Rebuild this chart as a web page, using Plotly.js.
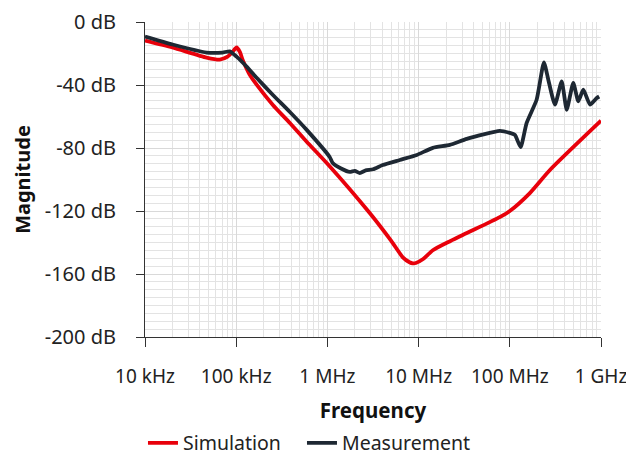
<!DOCTYPE html>
<html>
<head>
<meta charset="utf-8">
<script src="https://cdn.plot.ly/plotly-3.0.1.min.js"></script>
<style>html,body{margin:0;padding:0;background:#fff}#chart{width:626px;height:455px}</style>
</head>
<body>
<div id="chart"></div>
<script>
// log10(frequency in Hz) and magnitude in dB
const simLogF = [4.0, 4.3, 4.675, 4.82, 4.906, 4.96, 5.004, 5.04, 5.07, 5.147, 5.224, 5.4, 5.586, 5.773, 6.0, 6.464, 6.7, 6.827, 6.9, 6.936, 6.97, 7.05, 7.156, 7.35, 7.529, 7.89, 8.0, 8.22, 8.44, 9.0];
const simDb    = [-11.8, -16.2, -22.6, -23.9, -22, -19, -16.2, -19, -23.9, -33.4, -39.8, -52.5, -64, -76, -90, -121.3, -139, -149.4, -152.5, -153.2, -153, -150.5, -144.9, -139, -134, -123.9, -120, -108.6, -94, -62.7];

const measLogF = [4.0, 4.302, 4.675, 4.85, 4.93, 5.004, 5.114, 5.224, 5.4, 5.586, 5.773, 6.025, 6.058, 6.15, 6.245, 6.3, 6.355, 6.42, 6.5, 6.607, 6.794, 6.98, 7.156, 7.342, 7.529, 7.89, 8.0, 8.056, 8.119, 8.184, 8.294, 8.374, 8.422, 8.495, 8.569, 8.624, 8.696, 8.751, 8.806, 8.88, 8.953, 8.98];
const measDb   = [-9.2, -14.3, -19.4, -19.4, -18.6, -22, -28.3, -35.4, -46.2, -57, -68.5, -85.7, -89.5, -93, -95.2, -94.5, -95.9, -94.2, -93.5, -90.8, -87.6, -84.4, -79.9, -78, -74.2, -69.1, -70.4, -71.7, -79.5, -64.2, -49.4, -25.6, -36.6, -52.5, -37.7, -55.7, -38.7, -50.4, -43, -52.5, -48.3, -47.3];

const xTickVals = [1e4, 1e5, 1e6, 1e7, 1e8, 1e9];
const xTickText = ['10 kHz', '100 kHz', '1 MHz', '10 MHz', '100 MHz', '1 GHz'];
const yTickVals = [0, -40, -80, -120, -160, -200];
const yTickText = ['0 dB', '-40 dB', '-80 dB', '-120 dB', '-160 dB', '-200 dB'];

const toHz = a => a.map(v => Math.pow(10, v));
const FONT = 'Noto Sans, Open Sans, sans-serif';

const traces = [
  {x: toHz(simLogF), y: simDb, name: 'Simulation', mode: 'lines', legend: 'legend', line: {color: '#e8000b', width: 3.8, shape: 'spline', smoothing: 0.6}},
  {x: toHz(measLogF), y: measDb, name: 'Measurement', mode: 'lines', legend: 'legend2', line: {color: '#1e2833', width: 3.8, shape: 'spline', smoothing: 0.5}}
];

const legendBase = {orientation: 'h', xanchor: 'left', xref: 'container', y: 0.026, yref: 'container', yanchor: 'middle', font: {size: 19.5, color: '#222'}, bgcolor: 'rgba(0,0,0,0)'};

const layout = {
  width: 626, height: 455,
  margin: {l: 145, r: 25, t: 22, b: 118, autoexpand: false},
  paper_bgcolor: '#fff', plot_bgcolor: '#fff',
  font: {family: FONT, size: 20, color: '#222'},
  showlegend: true,
  legend: Object.assign({}, legendBase, {x: 0.2284}),
  legend2: Object.assign({}, legendBase, {x: 0.4824}),
  xaxis: {
    type: 'log', range: [4, 9],
    tickvals: xTickVals, ticktext: xTickText,
    ticks: 'outside', ticklen: 9, tickcolor: '#333', tickwidth: 1,
    ticklabelstandoff: 13, ticklabeloverflow: 'allow',
    showline: true, linecolor: '#333', linewidth: 1,
    showgrid: true, gridcolor: '#d9d9d9', gridwidth: 1,
    minor: {dtick: 'D1', showgrid: true, gridcolor: '#e3e3e3', gridwidth: 1, ticks: ''},
    zeroline: false,
    title: {text: 'Frequency', font: {size: 20.5, color: '#111', weight: 'bold'}, standoff: 25},
    tickfont: {size: 19}
  },
  yaxis: {
    range: [-200, 0],
    tickvals: yTickVals, ticktext: yTickText,
    ticks: 'outside', ticklen: 8, tickcolor: '#333', tickwidth: 1,
    ticklabelstandoff: 16,
    showline: true, linecolor: '#333', linewidth: 1,
    showgrid: true, gridcolor: '#d9d9d9', gridwidth: 1,
    minor: {dtick: 5, showgrid: true, gridcolor: '#e3e3e3', gridwidth: 1, ticks: ''},
    zeroline: false,
    title: {text: 'Magnitude', font: {size: 20, color: '#111', weight: 'bold'}, standoff: 8},
    tickfont: {size: 20}
  }
};

Plotly.newPlot('chart', traces, layout, {displayModeBar: false, staticPlot: true});
</script>
</body>
</html>
